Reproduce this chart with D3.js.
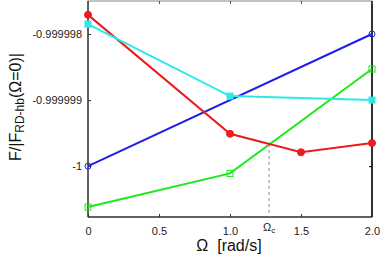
<!DOCTYPE html>
<html>
<head>
<meta charset="utf-8">
<script src="https://cdn.jsdelivr.net/npm/d3@7"></script>
<style>
  body { margin: 0; background: #fff; }
  text { font-family: "Liberation Sans", Arial, sans-serif; }
</style>
</head>
<body>
<svg width="382" height="257"></svg>
<script>
const blueX = [0, 2];
const blueY = [-1.0, -0.999998];
const redX = [0, 1, 1.5, 2];
const redY = [-0.99999771, -0.99999951, -0.99999979, -0.99999965];
const cyanX = [0, 1, 2];
const cyanY = [-0.99999785, -0.99999894, -0.999999];
const greenX = [0, 1, 2];
const greenY = [-1.00000062, -1.00000011, -0.99999853];

const omegaC = 1.275;
const xTicks = [0, 0.5, 1.0, 1.5, 2.0];
const xTickLabels = ["0", "0.5", "1.0", "1.5", "2.0"];
const yTicks = [-1, -0.999999, -0.999998];
const yTickLabels = ["-1", "-0.999999", "-0.999998"];

const svg = d3.select("svg");

const plotLeft = 88;
const plotRight = 372;
const plotTop = 1;
const plotBottom = 217;

const x = d3.scaleLinear().domain([0, 2]).range([plotLeft, plotRight]);
const y = d3
  .scaleLinear()
  .domain([-1.00000077, -0.9999975])
  .range([plotBottom, plotTop]);

// box
svg
  .append("rect")
  .attr("x", plotLeft)
  .attr("y", plotTop)
  .attr("width", plotRight - plotLeft)
  .attr("height", plotBottom - plotTop)
  .attr("fill", "none")
  .attr("stroke", "#888")
  .attr("stroke-width", 1);

svg
  .append("line")
  .attr("x1", plotLeft)
  .attr("x2", plotLeft)
  .attr("y1", plotTop)
  .attr("y2", plotBottom)
  .attr("stroke", "black");
svg
  .append("line")
  .attr("x1", plotRight)
  .attr("x2", plotRight)
  .attr("y1", plotTop)
  .attr("y2", plotBottom)
  .attr("stroke", "black")
  .attr("stroke-width", 1.5);
svg
  .append("line")
  .attr("x1", plotLeft)
  .attr("x2", plotRight)
  .attr("y1", plotBottom)
  .attr("y2", plotBottom)
  .attr("stroke", "black");

// bottom axis
const xAxis = svg
  .append("g")
  .attr("transform", `translate(0, ${plotBottom})`)
  .call(
    d3
      .axisBottom(x)
      .tickValues(xTicks)
      .tickFormat((d, i) => xTickLabels[i])
      .tickSizeInner(-3)
      .tickSizeOuter(0)
      .tickPadding(10)
  );
xAxis.select(".domain").remove();
xAxis.selectAll("line").attr("stroke", "#333");
xAxis.selectAll("text").attr("font-size", 11).attr("fill", "#222");

// top ticks
svg
  .append("g")
  .attr("transform", `translate(0, ${plotTop})`)
  .call(d3.axisTop(x).tickValues(xTicks).tickFormat("").tickSizeInner(-3).tickSizeOuter(0))
  .call(g => g.select(".domain").remove())
  .selectAll("line")
  .attr("stroke", "#555");

// left axis
const yAxis = svg
  .append("g")
  .attr("transform", `translate(${plotLeft}, 0)`)
  .call(
    d3
      .axisLeft(y)
      .tickValues(yTicks)
      .tickFormat((d, i) => yTickLabels[i])
      .tickSizeInner(-3)
      .tickSizeOuter(0)
      .tickPadding(6)
  );
yAxis.select(".domain").remove();
yAxis.selectAll("line").attr("stroke", "#333");
yAxis.selectAll("text").attr("font-size", 11).attr("fill", "#222");

// right ticks
svg
  .append("g")
  .attr("transform", `translate(${plotRight}, 0)`)
  .call(d3.axisRight(y).tickValues(yTicks).tickFormat("").tickSizeInner(-3).tickSizeOuter(0))
  .call(g => g.select(".domain").remove());

// Omega_c label
const oc = svg
  .append("text")
  .attr("x", x(omegaC))
  .attr("y", 231)
  .attr("text-anchor", "middle")
  .attr("font-size", 11)
  .attr("fill", "#222");
oc.append("tspan").text("Ω");
oc.append("tspan").attr("font-size", 8).attr("dy", 2).text("c");

// series
const series = [
  { xs: blueX, ys: blueY, color: "#1f1fe6", marker: "circle", fill: false },
  { xs: greenX, ys: greenY, color: "#1de81d", marker: "square", fill: false },
  { xs: redX, ys: redY, color: "#ec1c1c", marker: "circle", fill: true },
  { xs: cyanX, ys: cyanY, color: "#2ee8e8", marker: "square", fill: true }
];

const line = d3
  .line()
  .x(d => x(d[0]))
  .y(d => y(d[1]));

// dashed Omega_c line from red/green crossing down to axis
const crossY = d3.scaleLinear().domain([1, 1.5]).range([redY[1], redY[2]])(omegaC);
svg
  .append("line")
  .attr("x1", x(omegaC))
  .attr("x2", x(omegaC))
  .attr("y1", y(crossY))
  .attr("y2", plotBottom)
  .attr("stroke", "#888")
  .attr("stroke-width", 1)
  .attr("stroke-dasharray", "3,3");

series.forEach(s => {
  const pts = s.xs.map((v, i) => [v, s.ys[i]]);
  svg
    .append("path")
    .attr("d", line(pts))
    .attr("fill", "none")
    .attr("stroke", s.color)
    .attr("stroke-width", 2);

  if (s.marker === "circle") {
    svg
      .selectAll(null)
      .data(pts)
      .enter()
      .append("circle")
      .attr("cx", d => x(d[0]))
      .attr("cy", d => y(d[1]))
      .attr("r", s.fill ? 3.5 : 3)
      .attr("fill", s.fill ? s.color : "none")
      .attr("stroke", s.color)
      .attr("stroke-width", 1);
  } else {
    const sz = 6;
    svg
      .selectAll(null)
      .data(pts)
      .enter()
      .append("rect")
      .attr("x", d => x(d[0]) - sz / 2)
      .attr("y", d => y(d[1]) - sz / 2)
      .attr("width", sz)
      .attr("height", sz)
      .attr("fill", s.fill ? s.color : "none")
      .attr("stroke", s.color)
      .attr("stroke-width", 1);
  }
});

// x label
svg
  .append("text")
  .attr("x", 229)
  .attr("y", 251)
  .attr("text-anchor", "middle")
  .attr("font-size", 16)
  .attr("fill", "#111")
  .style("white-space", "pre")
  .text("Ω  [rad/s]");

// y label
const yl = svg
  .append("text")
  .attr("transform", "translate(21, 107) rotate(-90)")
  .attr("text-anchor", "middle")
  .attr("font-size", 16)
  .attr("fill", "#111");
yl.append("tspan").text("F/|F");
yl.append("tspan").attr("font-size", 12).attr("dy", 3).text("RD-hb");
yl.append("tspan").attr("dy", -3).text("(Ω=0)|");
</script>
</body>
</html>
